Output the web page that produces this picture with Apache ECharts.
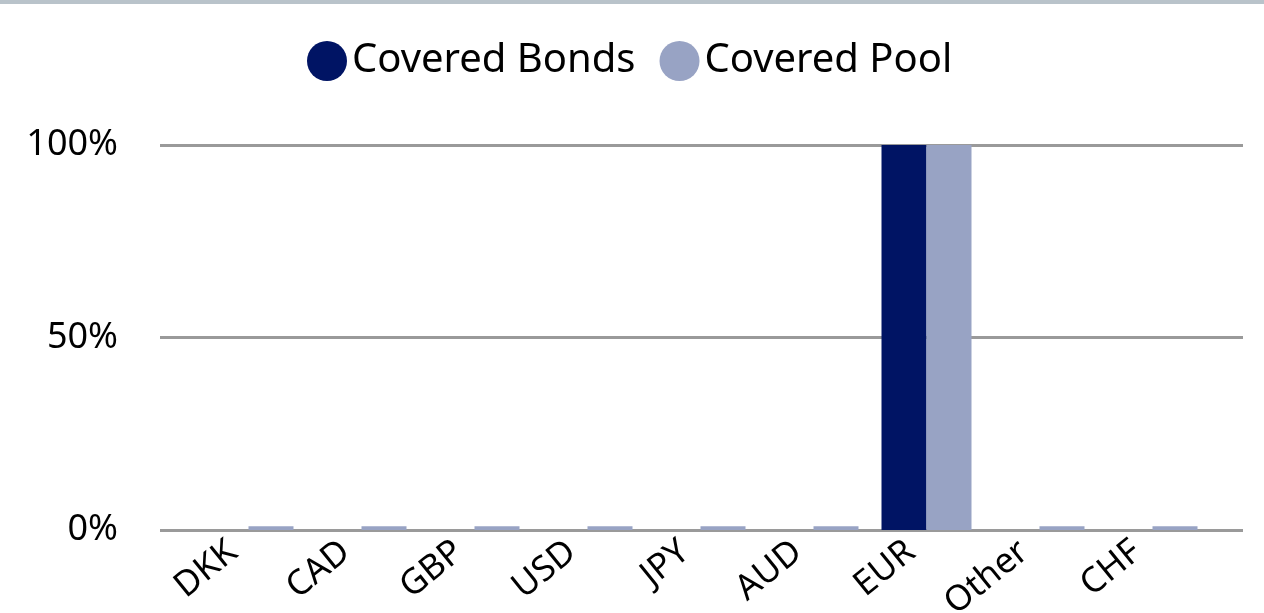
<!DOCTYPE html>
<html>
<head>
<meta charset="utf-8">
<style>
  html, body { margin: 0; padding: 0; background: #ffffff; }
  #topbar { position: absolute; left: 0; top: 0; width: 1264px; height: 4px; background: #b9c3ca; }
  #chart { position: absolute; left: 0; top: 0; width: 1264px; height: 613px; }
</style>
<script src="https://cdn.jsdelivr.net/npm/echarts@6/dist/echarts.min.js"></script>
</head>
<body>
<div id="topbar"></div>
<div id="chart"></div>
<script>
// Currency breakdown of covered bonds vs. cover pool (share of total, %)
const currencies = ['DKK', 'CAD', 'GBP', 'USD', 'JPY', 'AUD', 'EUR', 'Other', 'CHF'];
const coveredBonds = [0, 0, 0, 0, 0, 0, 100, 0, 0];
const coveredPool = [1, 1, 1, 1, 1, 1, 100, 1, 1];
const yTicks = [0, 50, 100];

const FONT = '"Noto Sans", "Open Sans", sans-serif';
const chart = echarts.init(document.getElementById('chart'), null, { renderer: 'canvas' });

chart.setOption({
  animation: false,
  textStyle: { fontFamily: FONT },
  legend: {
    top: 36,
    left: 302,
    itemWidth: 40,
    itemHeight: 40,
    itemGap: 24,
    icon: 'circle',
    textStyle: { fontSize: 40, color: '#000', fontFamily: FONT },
    data: ['Covered Bonds', 'Covered Pool']
  },
  grid: [
    // wide grid carrying the value scale and gridlines
    { left: 160, right: 21, top: 145, bottom: 83, containLabel: false, outerBoundsMode: 'none' },
    // inner grid holding the bars
    { left: 192, right: 55, top: 145, bottom: 83, containLabel: false, outerBoundsMode: 'none' }
  ],
  xAxis: [
    { gridIndex: 0, type: 'category', data: currencies, show: false },
    {
      gridIndex: 1, type: 'category', data: currencies,
      axisLine: { show: false }, axisTick: { show: false },
      axisLabel: { rotate: 39, fontSize: 35, color: '#000', fontFamily: FONT, margin: 5, padding: [0, 20, 0, 0] }
    }
  ],
  yAxis: [
    {
      gridIndex: 0, type: 'value', min: yTicks[0], max: yTicks[yTicks.length - 1], interval: 50,
      axisLine: { show: false }, axisTick: { show: false },
      axisLabel: { fontSize: 36, color: '#000', fontFamily: FONT, margin: 42, formatter: v => v + '%' },
      splitLine: { lineStyle: { color: '#9a9a9a', width: 3 } }
    },
    {
      gridIndex: 1, type: 'value', min: yTicks[0], max: yTicks[yTicks.length - 1], interval: 50,
      show: false, splitLine: { show: false }
    }
  ],
  series: [
    {
      name: 'Covered Bonds', type: 'bar', xAxisIndex: 1, yAxisIndex: 1,
      data: coveredBonds, barWidth: 45, barGap: '0%',
      itemStyle: { color: '#001464' }
    },
    {
      name: 'Covered Pool', type: 'bar', xAxisIndex: 1, yAxisIndex: 1,
      data: coveredPool, barWidth: 45, barGap: '0%',
      itemStyle: { color: '#98a3c4' }
    }
  ]
});
</script>
</body>
</html>
